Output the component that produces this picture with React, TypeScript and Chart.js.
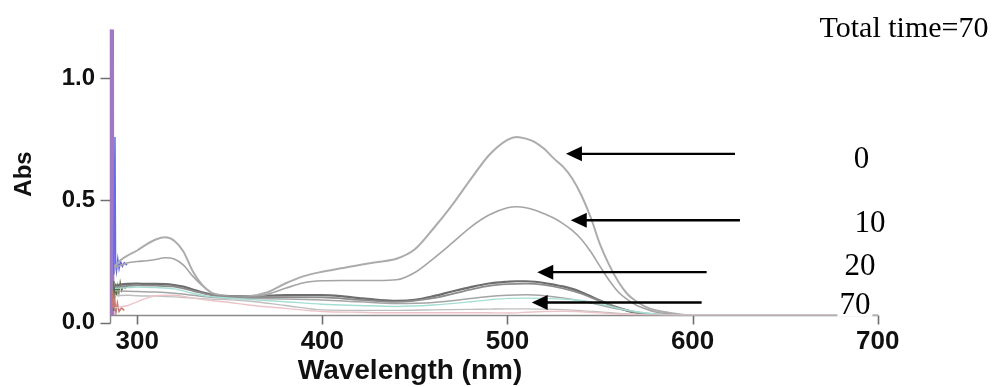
import React, { useEffect, useRef } from 'react';
import { Chart, registerables } from 'chart.js';

Chart.register(...registerables);

// ---- data ----
const wavelengths = [288, 291, 295, 300, 305, 310, 315, 320, 325, 330, 335, 340, 345, 350, 360, 370, 380, 390, 400, 410, 420, 430, 440, 450, 460, 470, 480, 490, 500, 505, 510, 515, 520, 525, 530, 535, 540, 545, 550, 555, 560, 565, 570, 575, 580, 590, 600, 620, 650, 700];
const absT0 = [0.23, 0.255, 0.275, 0.295, 0.32, 0.34, 0.349, 0.335, 0.29, 0.21, 0.155, 0.123, 0.112, 0.107, 0.108, 0.123, 0.16, 0.19, 0.208, 0.222, 0.236, 0.248, 0.261, 0.3, 0.385, 0.48, 0.585, 0.685, 0.748, 0.76, 0.753, 0.738, 0.71, 0.672, 0.638, 0.59, 0.52, 0.43, 0.32, 0.235, 0.166, 0.115, 0.085, 0.063, 0.05, 0.037, 0.03, 0.03, 0.03, 0.03];
const absT10 = [0.225, 0.235, 0.245, 0.25, 0.253, 0.258, 0.265, 0.26, 0.235, 0.19, 0.152, 0.122, 0.11, 0.105, 0.104, 0.115, 0.14, 0.163, 0.171, 0.172, 0.172, 0.172, 0.175, 0.205, 0.262, 0.325, 0.39, 0.44, 0.47, 0.474, 0.47, 0.46, 0.445, 0.428, 0.405, 0.377, 0.34, 0.29, 0.23, 0.172, 0.124, 0.093, 0.07, 0.055, 0.043, 0.034, 0.03, 0.03, 0.03, 0.03];
const absT20 = [0.15, 0.155, 0.158, 0.159, 0.158, 0.158, 0.157, 0.153, 0.147, 0.135, 0.124, 0.115, 0.11, 0.108, 0.108, 0.11, 0.112, 0.112, 0.112, 0.108, 0.1, 0.093, 0.089, 0.093, 0.108, 0.127, 0.145, 0.16, 0.167, 0.169, 0.169, 0.167, 0.162, 0.155, 0.148, 0.138, 0.124, 0.108, 0.09, 0.074, 0.06, 0.048, 0.04, 0.034, 0.031, 0.03, 0.03, 0.03, 0.03, 0.03];

const wavelengthsLow = [288, 295, 300, 310, 320, 330, 340, 350, 360, 380, 400, 420, 440, 460, 480, 490, 500, 510, 520, 530, 540, 550, 560, 570, 580, 590, 600, 700];
const absT30 = [0.145, 0.15, 0.152, 0.151, 0.147, 0.13, 0.112, 0.105, 0.103, 0.104, 0.103, 0.093, 0.085, 0.1, 0.135, 0.15, 0.157, 0.159, 0.154, 0.14, 0.118, 0.088, 0.06, 0.042, 0.033, 0.03, 0.03, 0.03];
const absT40 = [0.13, 0.128, 0.127, 0.125, 0.12, 0.112, 0.104, 0.1, 0.098, 0.096, 0.092, 0.085, 0.078, 0.082, 0.098, 0.107, 0.112, 0.114, 0.11, 0.101, 0.088, 0.072, 0.055, 0.042, 0.034, 0.03, 0.03, 0.03];
const absT50 = [0.14, 0.143, 0.145, 0.143, 0.138, 0.12, 0.106, 0.1, 0.095, 0.085, 0.075, 0.07, 0.066, 0.072, 0.085, 0.093, 0.099, 0.1, 0.099, 0.096, 0.09, 0.076, 0.058, 0.044, 0.035, 0.03, 0.03, 0.03];
const absT60 = [0.11, 0.112, 0.11, 0.108, 0.105, 0.1, 0.096, 0.093, 0.088, 0.07, 0.052, 0.05, 0.05, 0.052, 0.054, 0.055, 0.056, 0.056, 0.055, 0.053, 0.049, 0.043, 0.037, 0.033, 0.031, 0.03, 0.03, 0.03];
const absT70 = [0.06, 0.07, 0.085, 0.11, 0.112, 0.1, 0.09, 0.082, 0.072, 0.058, 0.045, 0.042, 0.04, 0.04, 0.04, 0.04, 0.039, 0.042, 0.045, 0.046, 0.044, 0.04, 0.035, 0.032, 0.03, 0.03, 0.03, 0.03];

// short traces near the lower wavelength limit
const purpleX = [286.3, 286.6, 287.5, 300];
const purpleY = [1.6, 0.02, 0.01, 0.01];
const blueX = [287.0, 287.4, 288.0, 288.3, 288.8, 289.5, 290.2, 291, 292, 293, 294.5];
const blueY = [0.2, 0.27, 0.76, 0.24, 0.21, 0.26, 0.22, 0.25, 0.23, 0.245, 0.235];
const greenX = [287.0, 287.4, 287.9, 288.4, 288.9, 289.5, 290.1, 290.8, 291.6, 292.5, 293.5, 295, 297];
const greenY = [0.05, 0.17, 0.1, 0.16, 0.11, 0.15, 0.12, 0.165, 0.13, 0.15, 0.14, 0.155, 0.15];
const redX = [286.6, 287.2, 287.8, 288.5, 289.3, 290.2, 291.5, 293];
const redY = [0.13, 0.06, 0.1, 0.04, 0.08, 0.045, 0.06, 0.05];

const xTicks = [300, 400, 500, 600, 700];
const yTicks = [0, 0.5, 1.0];

// annotations (data units)
const timeLabels = ['0', '10', '20', '70'];
const labelX = [691.2, 695.8, 690.4, 687.7];
const labelY = [0.6756, 0.412, 0.2376, 0.0775];
const arrowTipX = [531.6, 534.2, 516.1, 513.1];
const arrowEndX = [622.9, 625.6, 607.6, 604.9];
const arrowY = [0.6906, 0.419, 0.2064, 0.0823];
const totalTimeText = 'Total time=70';
const xTitle = 'Wavelength (nm)';
const yTitle = 'Abs';

const SANS = '"Liberation Sans", Arial, Helvetica, sans-serif';
const SERIF = '"Liberation Serif", "Times New Roman", serif';
const AXIS = '#8a8a8a';
const TICK = '#707070';

const pts = (xs: number[], ys: number[]) => xs.map((x, i) => ({ x, y: ys[i] }));

const axesPlugin = {
  id: 'axesPlugin',
  beforeDatasetsDraw(chart: any) {
    const { ctx, chartArea } = chart;
    const x = chart.scales.x;
    const y = chart.scales.y;
    ctx.save();
    const left = Math.round(chartArea.left) + 0.5;
    const bottom = Math.round(chartArea.bottom) + 0.5;
    const y0 = Math.round(y.getPixelForValue(0)) + 0.5;
    ctx.strokeStyle = AXIS;
    ctx.lineWidth = 1.5;
    ctx.beginPath();
    ctx.moveTo(left, chartArea.top);
    ctx.lineTo(left, y0);
    ctx.moveTo(chartArea.left, bottom);
    ctx.lineTo(chartArea.right, bottom);
    ctx.stroke();
    ctx.strokeStyle = TICK;
    ctx.lineWidth = 1.6;
    ctx.beginPath();
    for (const v of yTicks) {
      const py = Math.round(y.getPixelForValue(v)) + 0.5;
      ctx.moveTo(left - 10, py);
      ctx.lineTo(left, py);
    }
    for (const v of xTicks) {
      const px = Math.round(x.getPixelForValue(v)) + 0.5;
      ctx.moveTo(px, bottom);
      ctx.lineTo(px, bottom + 9);
    }
    ctx.stroke();
    ctx.restore();
  },
};

const overlay = {
  id: 'overlay',
  afterDraw(chart: any) {
    const { ctx } = chart;
    const x = chart.scales.x;
    const y = chart.scales.y;
    ctx.save();

    // arrows
    ctx.strokeStyle = '#000';
    ctx.fillStyle = '#000';
    ctx.lineWidth = 2.4;
    for (let i = 0; i < arrowY.length; i++) {
      const tx = x.getPixelForValue(arrowTipX[i]);
      const ex = x.getPixelForValue(arrowEndX[i]);
      const py = y.getPixelForValue(arrowY[i]);
      ctx.beginPath();
      ctx.moveTo(ex, py);
      ctx.lineTo(tx + 12, py);
      ctx.stroke();
      ctx.beginPath();
      ctx.moveTo(tx, py);
      ctx.lineTo(tx + 16, py - 7.5);
      ctx.lineTo(tx + 16, py + 7.5);
      ctx.closePath();
      ctx.fill();
    }

    // time labels
    ctx.font = `31px ${SERIF}`;
    ctx.textAlign = 'center';
    ctx.textBaseline = 'alphabetic';
    for (let i = 0; i < timeLabels.length; i++) {
      const cx = x.getPixelForValue(labelX[i]);
      const cy = y.getPixelForValue(labelY[i]);
      const base = cy + 10.5;
      if (i === timeLabels.length - 1) {
        const w = ctx.measureText(timeLabels[i]).width;
        ctx.fillStyle = '#fff';
        ctx.fillRect(cx - w / 2 - 2, cy - 12, w + 4, 25);
      }
      ctx.fillStyle = '#000';
      ctx.fillText(timeLabels[i], cx, base);
    }

    // total time
    ctx.font = `30px ${SERIF}`;
    ctx.fillText(totalTimeText, 904, 37);

    // axis titles
    ctx.fillStyle = '#111';
    ctx.font = `bold 28px ${SANS}`;
    ctx.textAlign = 'center';
    ctx.fillText(xTitle, 410, 378.5);
    ctx.translate(24.5, 174);
    ctx.rotate(-Math.PI / 2);
    ctx.font = `bold 24px ${SANS}`;
    ctx.textBaseline = 'middle';
    ctx.fillText(yTitle, 0, 0);
    ctx.restore();
  },
};

export default function App() {
  const ref = useRef<HTMLCanvasElement | null>(null);
  useEffect(() => {
    document.body.style.margin = '0';
    const canvas = ref.current;
    if (!canvas) return;
    const line = (data: any, color: string, width: number, smooth = true) => ({
      data,
      borderColor: color,
      borderWidth: width,
      pointRadius: 0,
      fill: false,
      clip: 0,
      cubicInterpolationMode: smooth ? 'monotone' : 'default',
      tension: smooth ? 0.4 : 0,
    });
    const chart = new Chart(canvas, {
      type: 'line',
      data: {
        datasets: [
          line(pts(wavelengthsLow, absT70), 'rgb(236,196,200)', 1.4),
          line(pts(wavelengthsLow, absT60), 'rgb(190,190,190)', 1.4),
          line(pts(wavelengthsLow, absT50), 'rgb(165,222,212)', 1.4),
          line(pts(wavelengthsLow, absT40), 'rgb(165,165,165)', 1.5),
          line(pts(wavelengthsLow, absT30), 'rgb(140,140,140)', 1.8),
          line(pts(wavelengths, absT0), 'rgb(172,172,172)', 2),
          line(pts(wavelengths, absT10), 'rgb(165,165,165)', 1.6),
          line(pts(wavelengths, absT20), 'rgb(110,110,110)', 2.2),
          line(pts(redX, redY), 'rgb(205,120,110)', 1.5, false),
          line(pts(greenX, greenY), 'rgb(85,105,60)', 1.2, false),
          line(pts(blueX, blueY), 'rgb(105,105,230)', 1.5, false),
          line(pts(purpleX, purpleY), 'rgb(160,120,195)', 4, false),
        ],
      },
      options: {
        animation: false,
        responsive: true,
        maintainAspectRatio: false,
        layout: { padding: { top: 26.7, right: 123.3, bottom: 0, left: 0 } },
        plugins: { legend: { display: false }, tooltip: { enabled: false }, title: { display: false } },
        elements: { point: { radius: 0 } },
        scales: {
          x: {
            type: 'linear',
            min: 285.3,
            max: 700,
            afterBuildTicks: (s: any) => {
              s.ticks = xTicks.map((v) => ({ value: v }));
            },
            afterFit: (s: any) => {
              s.height = 71.7;
            },
            grid: { display: false, drawTicks: false },
            border: { display: false },
            ticks: {
              font: { family: SANS, size: 26, weight: 'bold' },
              color: '#111',
              padding: 11,
              maxRotation: 0,
              autoSkip: false,
            },
          },
          y: {
            type: 'linear',
            min: 0.0297,
            max: 1.2,
            afterBuildTicks: (s: any) => {
              s.ticks = yTicks.map((v) => ({ value: v }));
            },
            afterFit: (s: any) => {
              s.width = 110;
            },
            grid: { display: false, drawTicks: false },
            border: { display: false },
            ticks: {
              font: { family: SANS, size: 24, weight: 'bold' },
              color: '#111',
              padding: 15,
              autoSkip: false,
              callback: (v: any) => Number(v).toFixed(1),
            },
          },
        },
      },
      plugins: [axesPlugin, overlay],
    } as any);
    return () => chart.destroy();
  }, []);
  return (
    <div style={{ position: 'absolute', left: 0, top: 0, width: 1001, height: 387, background: '#fff' }}>
      <canvas ref={ref} />
    </div>
  );
}
